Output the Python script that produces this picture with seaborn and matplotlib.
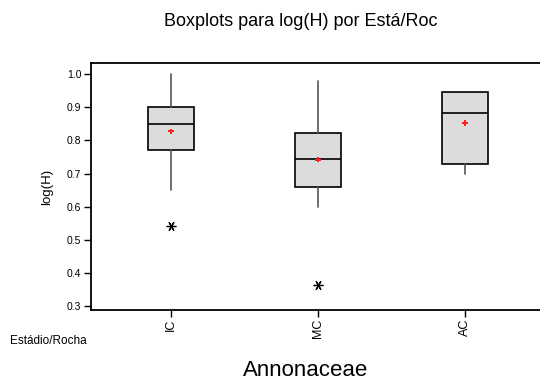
import matplotlib
matplotlib.use("Agg")
import matplotlib.pyplot as plt
import seaborn as sns
import pandas as pd

sns.set_theme(style="white")
plt.rcParams['font.family'] = ['Liberation Sans', 'DejaVu Sans']
plt.rcParams.update({"text.color": "black", "axes.labelcolor": "black",
                     "xtick.color": "black", "ytick.color": "black"})

categories = ["IC", "MC", "AC"]
q1 = [0.770, 0.660, 0.730]
medians = [0.850, 0.745, 0.882]
q3 = [0.900, 0.824, 0.947]
whis_low = [0.650, 0.600, 0.700]
whis_high = [1.000, 0.980, 0.947]
means = [0.828, 0.742, 0.853]
outliers = [[0.543], [0.362], []]
y_ticks = [0.3, 0.4, 0.5, 0.6, 0.7, 0.8, 0.9, 1.0]

fig = plt.figure(figsize=(5.40, 3.83), dpi=100)
ax = fig.add_axes([91/540, 73/383, 454/540, 247/383])

stats = []
for i, c in enumerate(categories):
    stats.append(dict(label=c, q1=q1[i], med=medians[i], q3=q3[i],
                      whislo=whis_low[i], whishi=whis_high[i],
                      mean=means[i], fliers=outliers[i]))

ax.bxp(stats, positions=list(range(len(categories))), widths=0.31,
       patch_artist=True, showcaps=False, showmeans=False,
       boxprops=dict(facecolor="#dcdcdc", edgecolor="black", linewidth=1.2),
       medianprops=dict(color="black", linewidth=1.2),
       whiskerprops=dict(color="#555555", linewidth=1.2),
       flierprops=dict(marker=(6, 2, 90), markersize=7, markeredgecolor="black",
                       markeredgewidth=0.9, linestyle="none"))

mdf = pd.DataFrame({"cat": list(range(len(categories))), "mean": means})
sns.scatterplot(data=mdf, x="cat", y="mean", ax=ax, marker="P", s=14,
                color="#ff2020", edgecolor="none", zorder=5, legend=False)

ax.set_xlim(-0.544, 2.544)
ax.set_ylim(0.288, 1.034)
ax.set_yticks(y_ticks)
ax.set_yticklabels([f"{v:.1f}" for v in y_ticks], fontsize=7.5)
ax.set_xticks(list(range(len(categories))))
ax.set_xticklabels(categories, rotation=90, fontsize=9)
ax.set_xlabel("")
ax.set_ylabel("log(H)", fontsize=9.5, labelpad=10, color="black")
ax.tick_params(axis="both", direction="out", length=5, width=1.0,
               color="black", labelcolor="black", left=True, bottom=True, pad=2)
ax.tick_params(axis="x", pad=1)
for side in ["left", "bottom", "top"]:
    ax.spines[side].set_visible(True)
    ax.spines[side].set_color("black")
    ax.spines[side].set_linewidth(1.3)
ax.spines["right"].set_visible(False)
ax.grid(False)

fig.text(301/540, 1 - 21/383, "Boxplots para log(H) por Está/Roc",
         ha="center", va="center", fontsize=13, color="black")
fig.text(10/540, 1 - 341/383, "Estádio/Rocha", ha="left", va="center",
         fontsize=8.5, color="black")
fig.text(306/540, 1 - 370/383, "Annonaceae", ha="center", va="center",
         fontsize=16, color="black")

fig.savefig("out.png", dpi=100)
